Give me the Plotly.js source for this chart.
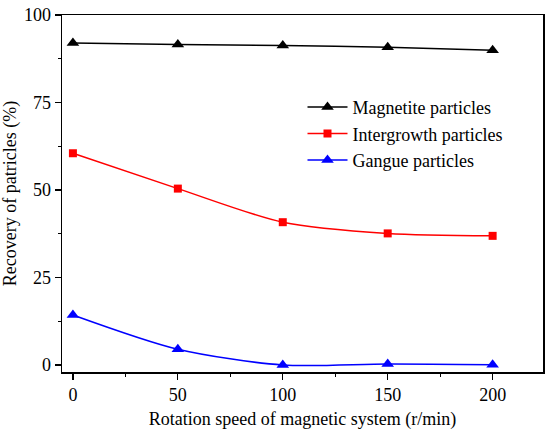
<!DOCTYPE html>
<html><head><meta charset="utf-8">
<script src="https://cdn.plot.ly/plotly-3.0.1.min.js"></script>
<style>body{margin:0;padding:0;background:#fff}</style>
</head><body>
<div id="chart" style="width:550px;height:432px"></div>
<script>
const speeds = [0, 50, 100, 150, 200];
const magnetite = [92.0, 91.6, 91.3, 90.8, 89.9];
const intergrowth = [60.5, 50.4, 40.8, 37.6, 36.9];
const gangue = [14.3, 4.5, 0.0, 0.3, 0.1];
const names = ['Magnetite particles', 'Intergrowth particles', 'Gangue particles'];

const font = {family: 'Liberation Serif', color: '#000'};
const traces = [
  {x: speeds, y: magnetite, name: names[0], mode: 'lines+markers',
   line: {color: '#000', width: 1.5, shape: 'spline', smoothing: 0.8},
   marker: {symbol: 'triangle-up', size: 11, color: '#000'}},
  {x: speeds, y: intergrowth, name: names[1], mode: 'lines+markers',
   line: {color: '#ff0000', width: 1.5, shape: 'spline', smoothing: 0.8},
   marker: {symbol: 'square', size: 8, color: '#ff0000'}},
  {x: speeds, y: gangue, name: names[2], mode: 'lines+markers',
   line: {color: '#0000ff', width: 1.5, shape: 'spline', smoothing: 0.8},
   marker: {symbol: 'triangle-up', size: 11, color: '#0000ff'}}
];
const layout = {
  width: 550, height: 432,
  margin: {l: 62, r: 7, t: 15, b: 60},
  paper_bgcolor: '#fff', plot_bgcolor: '#fff',
  font: Object.assign({size: 18}, font),
  showlegend: true,
  legend: {x: 0.5, y: 0.793, xanchor: 'left', yanchor: 'top', bgcolor: 'rgba(0,0,0,0)',
    font: Object.assign({size: 18}, font), itemwidth: 40, tracegroupgap: 0},
  xaxis: {range: [-5.2, 224], tickvals: speeds, ticks: 'outside', ticklen: 6, tickwidth: 1.2,
    tickcolor: '#000', showline: true, linecolor: '#000', linewidth: 1.5, mirror: true,
    showgrid: false, zeroline: false, tickfont: Object.assign({size: 18}, font),
    minor: {dtick: 25, tick0: 0, ticks: 'outside', ticklen: 3, tickcolor: '#000', tickwidth: 1.2, showgrid: false},
    title: {text: 'Rotation speed of magnetic system (r/min)', font: Object.assign({size: 18}, font), standoff: 8}},
  yaxis: {range: [-2, 100], tickvals: [0, 25, 50, 75, 100], ticks: 'outside', ticklen: 6, tickwidth: 1.2,
    tickcolor: '#000', showline: true, linecolor: '#000', linewidth: 1.5, mirror: true,
    showgrid: false, zeroline: false, tickfont: Object.assign({size: 18}, font),
    minor: {dtick: 12.5, tick0: 0, ticks: 'outside', ticklen: 3, tickcolor: '#000', tickwidth: 1.2, showgrid: false},
    title: {text: 'Recovery of patricles (%)', font: Object.assign({size: 18}, font), standoff: 6}}
};
Plotly.newPlot('chart', traces, layout, {displayModeBar: false, staticPlot: true});
</script>
</body></html>
